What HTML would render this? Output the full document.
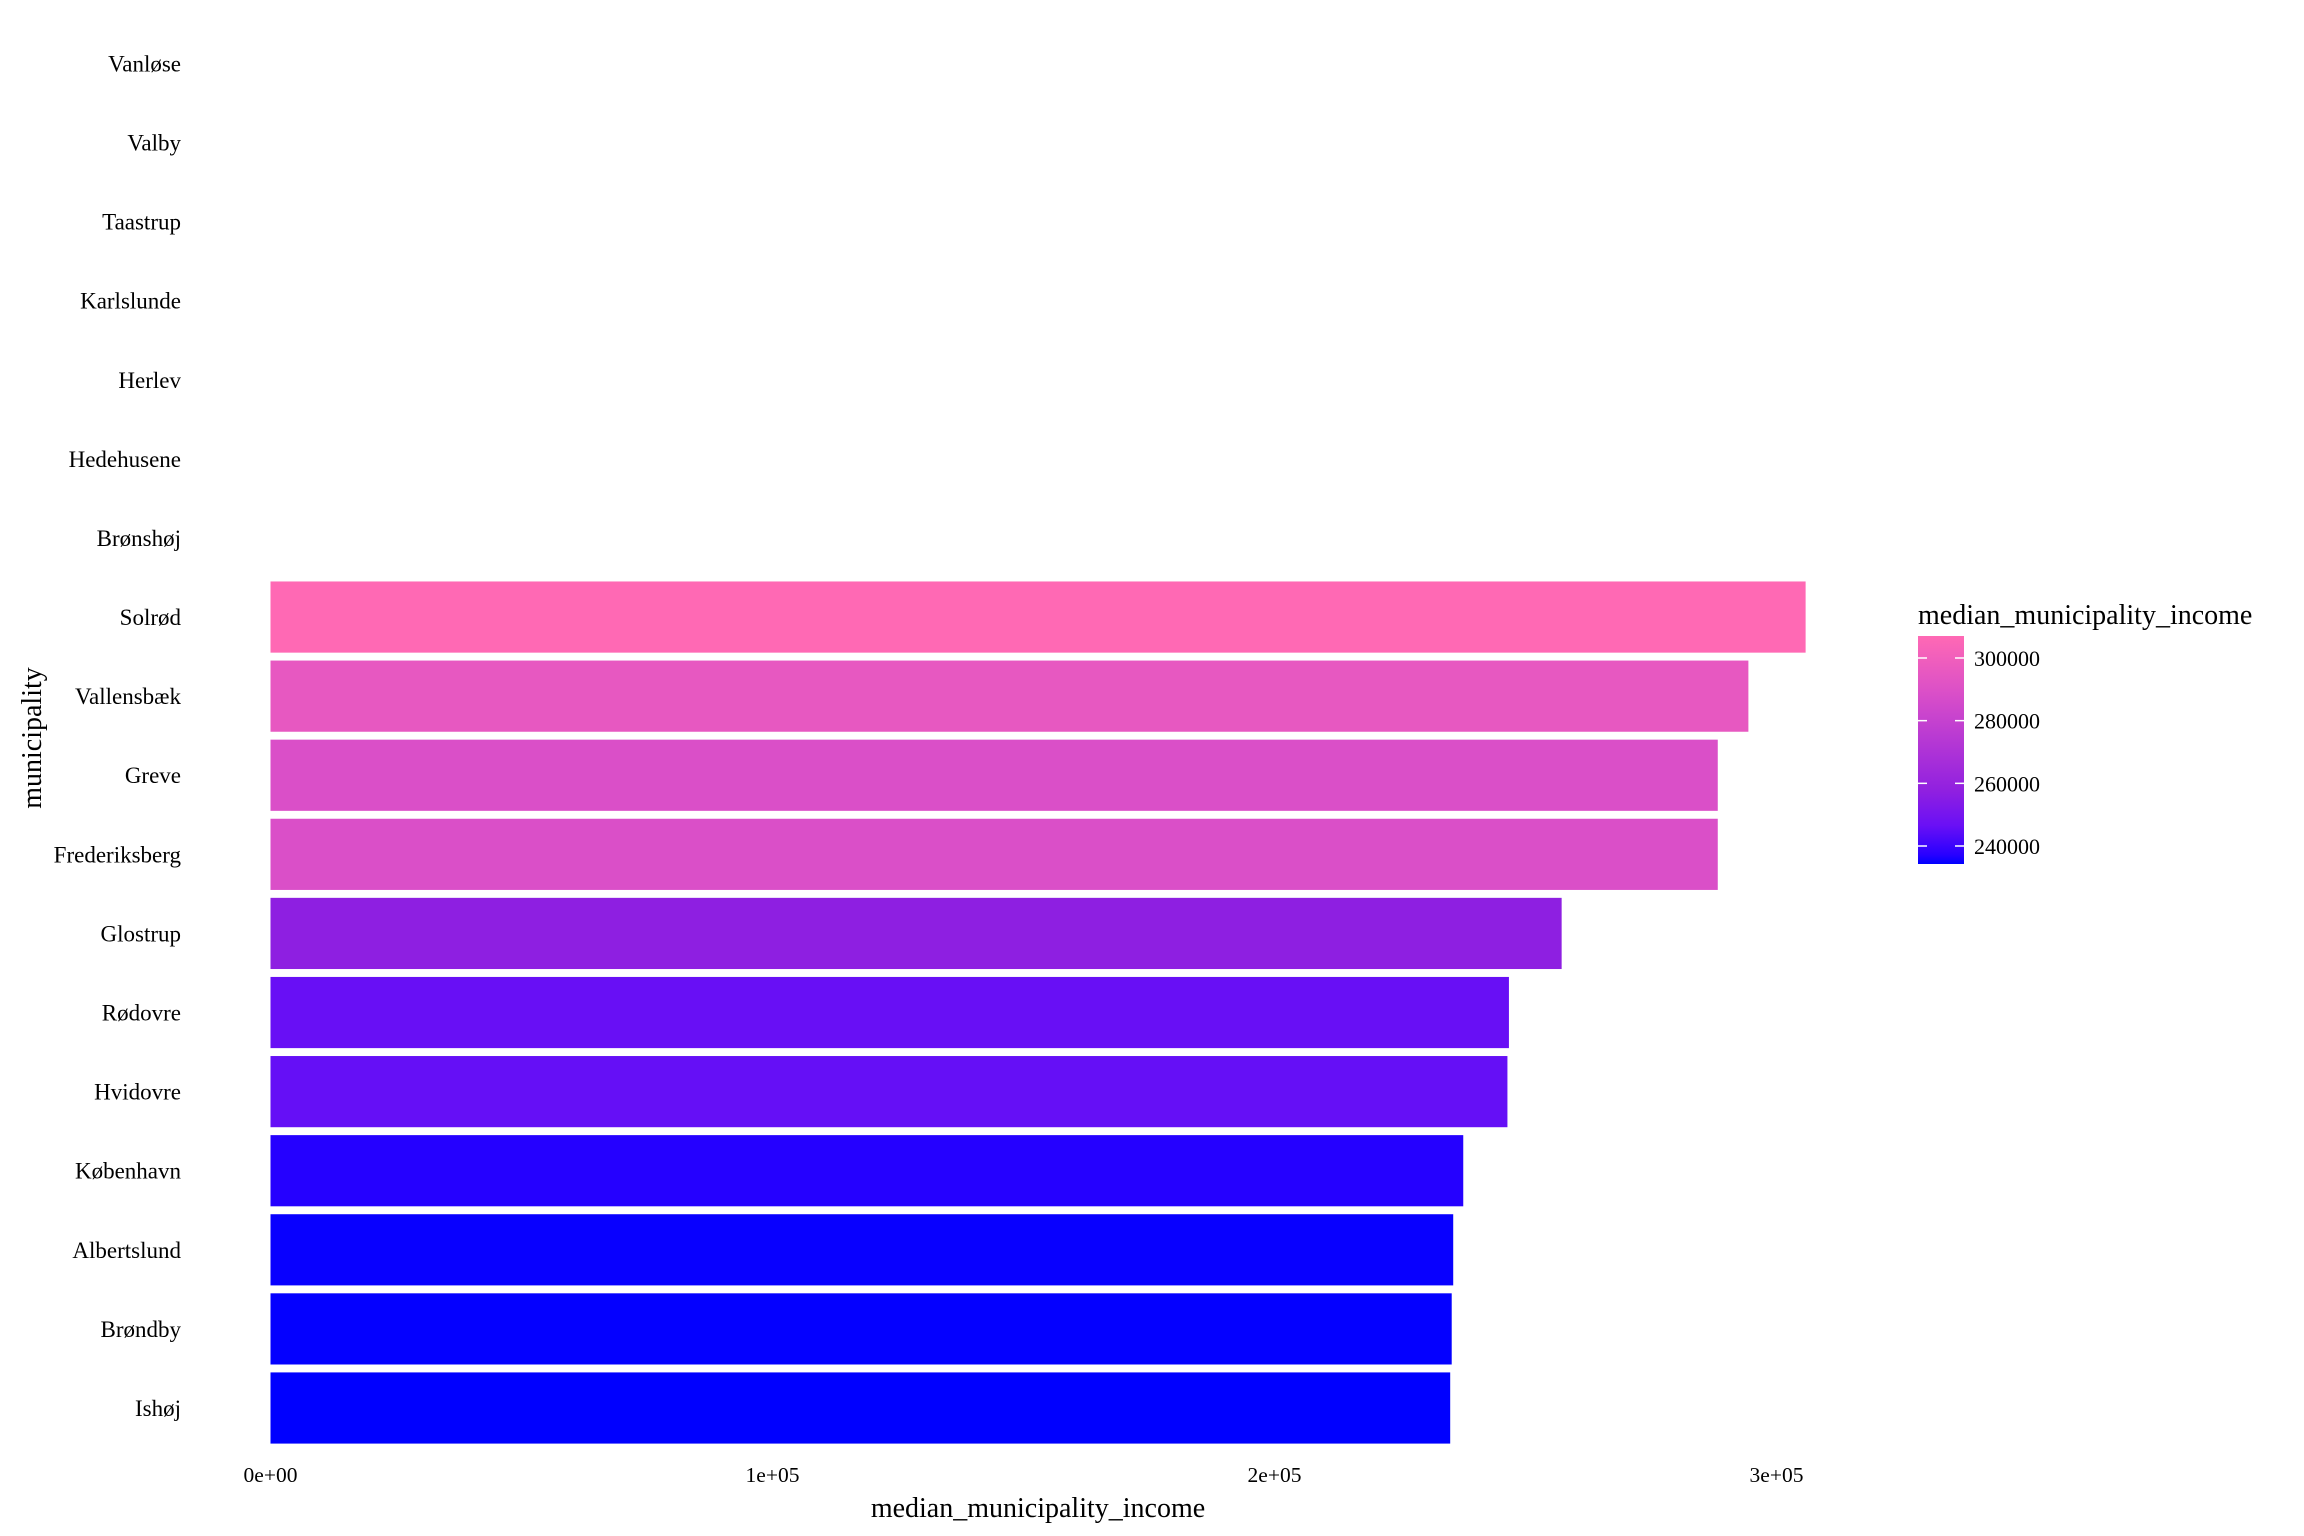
<!DOCTYPE html>
<html><head><meta charset="utf-8"><style>
body{margin:0;background:#fff}
svg{display:block;font-family:"Liberation Serif",serif}
</style></head><body>
<svg id="c" width="2304" height="1536" xmlns="http://www.w3.org/2000/svg">
<defs><linearGradient id="lg" x1="0" y1="1" x2="0" y2="0"><stop offset="0" stop-color="#0000FF"/><stop offset="0.04" stop-color="#2800FF"/><stop offset="0.17" stop-color="#6A10F5"/><stop offset="0.32" stop-color="#9020E0"/><stop offset="0.75" stop-color="#DA4FC8"/><stop offset="1" stop-color="#FF69B4"/></linearGradient></defs>
<g id="bars"></g>
<g id="ylabels"></g>
<g id="xlabels"></g>
<text x="1038" y="1517" font-size="28" text-anchor="middle">median_municipality_income</text>
<text transform="translate(41,738) rotate(-90)" font-size="28" text-anchor="middle">municipality</text>
<g>
<text x="1918" y="624" font-size="28">median_municipality_income</text>
<rect x="1918" y="636" width="46" height="228" fill="url(#lg)"/>
<g id="legticks"></g>
</g>
</svg>
<script>
const categories=["Vanløse","Valby","Taastrup","Karlslunde","Herlev","Hedehusene","Brønshøj","Solrød","Vallensbæk","Greve","Frederiksberg","Glostrup","Rødovre","Hvidovre","København","Albertslund","Brøndby","Ishøj"];
const values=[null,null,null,null,null,null,null,305800,294400,288300,288300,257200,246700,246400,237600,235600,235300,235000];
const xTicks=[0,100000,200000,300000];
const xTickLabels=["0e+00","1e+05","2e+05","3e+05"];
const legTicks=[240000,260000,280000,300000];
const NS="http://www.w3.org/2000/svg";
const x0=270.5, pxPer=502/100000;
const xs=v=>x0+v*pxPer;
const yTop=63.4, step=(1408-63.4)/17;
const ys=i=>yTop+i*step;
const vals=values.filter(v=>v!=null);
const vmin=Math.min(...vals), vmax=Math.max(...vals);
const stops=[[0,[0,0,255]],[0.04,[40,0,255]],[0.17,[106,16,245]],[0.32,[144,32,224]],[0.75,[218,79,200]],[1,[255,105,180]]];
function col(v){
  const t=(v-vmin)/(vmax-vmin);
  let k=0;while(k<stops.length-2&&t>stops[k+1][0])k++;
  const a=stops[k],b=stops[k+1];
  const u=Math.max(0,Math.min(1,(t-a[0])/(b[0]-a[0])));
  const c=a[1].map((x,j)=>Math.round(x+(b[1][j]-x)*u));
  return `rgb(${c[0]},${c[1]},${c[2]})`;
}
const bars=document.getElementById('bars'),yl=document.getElementById('ylabels'),xl=document.getElementById('xlabels');
categories.forEach((c,i)=>{
  const t=document.createElementNS(NS,'text');
  t.setAttribute('x',181);t.setAttribute('y',ys(i)+8);t.setAttribute('font-size','23');t.setAttribute('text-anchor','end');
  t.textContent=c;
  
  
  yl.appendChild(t);
  const v=values[i];
  if(v!=null){
    const r=document.createElementNS(NS,'rect');
    const h=step*0.9;
    r.setAttribute('x',xs(0));r.setAttribute('y',ys(i)-h/2);r.setAttribute('width',xs(v)-xs(0));r.setAttribute('height',h);r.setAttribute('fill',col(v));
    
    
    bars.appendChild(r);
  }
});
xTicks.forEach((v,i)=>{
  const t=document.createElementNS(NS,'text');
  t.setAttribute('x',xs(v));t.setAttribute('y',1482);t.setAttribute('font-size','21.5');t.setAttribute('text-anchor','middle');
  t.textContent=xTickLabels[i];
  
  
  xl.appendChild(t);
});
const lt=document.getElementById('legticks');
const ly=v=>658+(300000-v)*188/60000;
legTicks.forEach(v=>{
  const y=ly(v);
  [[1918,1927],[1955,1964]].forEach(([a,b])=>{
    const l=document.createElementNS(NS,'line');
    l.setAttribute('x1',a);l.setAttribute('x2',b);l.setAttribute('y1',y);l.setAttribute('y2',y);l.setAttribute('stroke','#fff');l.setAttribute('stroke-width','1.5');
    
    
    lt.appendChild(l);
  });
  const t=document.createElementNS(NS,'text');
  t.setAttribute('x',1974);t.setAttribute('y',y+8);t.setAttribute('font-size','22');
  t.textContent=v;
  
  
  lt.appendChild(t);
});
</script>
</body></html>
